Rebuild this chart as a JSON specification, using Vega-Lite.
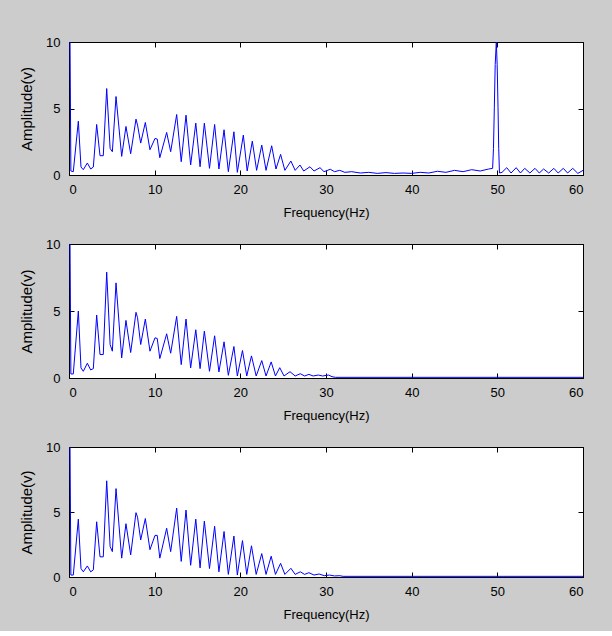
{
  "$schema": "https://vega.github.io/schema/vega-lite/v6.json",
  "background": "#cccccc",
  "padding": {"top": 35, "left": 19, "right": 29, "bottom": 9},
  "spacing": 17,
  "config": {
    "view": {"stroke": "#000000", "strokeWidth": 1, "fill": "#ffffff"},
    "axis": {
      "grid": false,
      "domain": false,
      "tickColor": "#000000",
      "tickSize": -5,
      "tickWidth": 1,
      "labelFont": "Liberation Sans",
      "labelFontSize": 13,
      "labelColor": "#000000",
      "titleFont": "Liberation Sans",
      "titleFontSize": 13,
      "titleFontWeight": "normal",
      "titleColor": "#000000"
    },
    "line": {"color": "#0000ff", "strokeWidth": 1, "clip": true}
  },
  "datasets": {
    "p1": [
      {"f":0.12,"a":10},{"f":0.22,"a":0.3},{"f":0.5,"a":0.25},{"f":1.09,"a":4.05},{"f":1.4,"a":0.6},{"f":1.67,"a":0.4},{"f":2.14,"a":0.9},{"f":2.53,"a":0.45},{"f":2.84,"a":0.6},{"f":3.23,"a":3.8},{"f":3.62,"a":1.45},{"f":4.0,"a":1.45},{"f":4.4,"a":6.5},{"f":4.8,"a":2.0},{"f":5.06,"a":1.75},{"f":5.49,"a":5.9},{"f":6.15,"a":1.4},{"f":6.65,"a":3.65},{"f":7.2,"a":1.6},{"f":7.82,"a":4.2},{"f":8.0,"a":3.75},{"f":8.37,"a":2.4},{"f":8.91,"a":3.95},{"f":9.45,"a":1.9},{"f":10.04,"a":2.75},{"f":10.3,"a":2.7},{"f":10.6,"a":1.3},{"f":11.4,"a":3.2},{"f":11.87,"a":1.75},{"f":12.57,"a":4.55},{"f":13.1,"a":1.0},{"f":13.66,"a":4.5},{"f":14.2,"a":0.75},{"f":14.8,"a":3.9},{"f":15.3,"a":0.62},{"f":15.8,"a":3.9},{"f":16.4,"a":0.5},{"f":17.0,"a":3.8},{"f":17.5,"a":0.45},{"f":18.1,"a":3.4},{"f":18.6,"a":0.25},{"f":19.25,"a":3.25},{"f":19.65,"a":0.2},{"f":20.35,"a":3.0},{"f":20.8,"a":0.3},{"f":21.4,"a":2.55},{"f":21.9,"a":0.35},{"f":22.5,"a":2.25},{"f":23.0,"a":0.35},{"f":23.66,"a":2.2},{"f":24.16,"a":0.45},{"f":24.7,"a":1.55},{"f":25.2,"a":0.35},{"f":25.9,"a":1.05},{"f":26.4,"a":0.35},{"f":26.96,"a":0.75},{"f":27.4,"a":0.3},{"f":28.13,"a":0.62},{"f":28.6,"a":0.3},{"f":29.3,"a":0.55},{"f":29.77,"a":0.25},{"f":30.5,"a":0.43},{"f":31.0,"a":0.25},{"f":31.6,"a":0.35},{"f":32.2,"a":0.2},{"f":33,"a":0.25},{"f":34,"a":0.15},{"f":35,"a":0.2},{"f":36,"a":0.12},{"f":37,"a":0.18},{"f":38,"a":0.12},{"f":39,"a":0.15},{"f":40,"a":0.12},{"f":41,"a":0.2},{"f":42,"a":0.15},{"f":43,"a":0.28},{"f":44,"a":0.2},{"f":45,"a":0.35},{"f":46,"a":0.25},{"f":47,"a":0.4},{"f":48,"a":0.3},{"f":49,"a":0.45},{"f":49.45,"a":0.5},{"f":49.55,"a":2.0},{"f":49.65,"a":5.1},{"f":49.75,"a":8.3},{"f":49.88,"a":10},{"f":49.98,"a":8.3},{"f":50.08,"a":5.1},{"f":50.16,"a":2.0},{"f":50.25,"a":0.15},{"f":50.55,"a":0.2},{"f":51.1,"a":0.55},{"f":51.6,"a":0.15},{"f":52.2,"a":0.55},{"f":52.7,"a":0.15},{"f":53.2,"a":0.5},{"f":53.8,"a":0.15},{"f":54.4,"a":0.5},{"f":54.9,"a":0.15},{"f":55.4,"a":0.45},{"f":56.0,"a":0.15},{"f":56.6,"a":0.5},{"f":57.1,"a":0.15},{"f":57.7,"a":0.5},{"f":58.2,"a":0.15},{"f":58.8,"a":0.5},{"f":59.4,"a":0.12},{"f":60,"a":0.35}
    ],
    "p2": [
      {"f":0.12,"a":10},{"f":0.22,"a":0.3},{"f":0.5,"a":0.3},{"f":1.09,"a":5.0},{"f":1.4,"a":0.75},{"f":1.67,"a":0.5},{"f":2.14,"a":1.1},{"f":2.53,"a":0.6},{"f":2.84,"a":0.7},{"f":3.23,"a":4.7},{"f":3.62,"a":1.75},{"f":4.0,"a":1.75},{"f":4.4,"a":7.9},{"f":4.8,"a":2.5},{"f":5.06,"a":2.0},{"f":5.49,"a":7.1},{"f":6.15,"a":1.5},{"f":6.65,"a":4.3},{"f":7.2,"a":1.9},{"f":7.82,"a":4.9},{"f":8.0,"a":4.5},{"f":8.37,"a":2.5},{"f":8.91,"a":4.4},{"f":9.45,"a":2.0},{"f":10.04,"a":3.0},{"f":10.3,"a":2.95},{"f":10.6,"a":1.45},{"f":11.4,"a":3.3},{"f":11.87,"a":1.85},{"f":12.57,"a":4.6},{"f":13.1,"a":1.0},{"f":13.66,"a":4.4},{"f":14.2,"a":0.75},{"f":14.8,"a":3.6},{"f":15.3,"a":0.7},{"f":15.8,"a":3.5},{"f":16.4,"a":0.5},{"f":17.0,"a":3.15},{"f":17.5,"a":0.45},{"f":18.1,"a":2.7},{"f":18.6,"a":0.2},{"f":19.25,"a":2.35},{"f":19.65,"a":0.15},{"f":20.25,"a":2.05},{"f":20.75,"a":0.15},{"f":21.3,"a":1.65},{"f":21.85,"a":0.15},{"f":22.5,"a":1.3},{"f":23.0,"a":0.15},{"f":23.6,"a":1.2},{"f":24.1,"a":0.15},{"f":24.6,"a":0.77},{"f":25.1,"a":0.15},{"f":25.8,"a":0.47},{"f":26.4,"a":0.15},{"f":27.0,"a":0.32},{"f":27.5,"a":0.15},{"f":28.0,"a":0.27},{"f":28.5,"a":0.15},{"f":29.1,"a":0.22},{"f":29.6,"a":0.15},{"f":30.3,"a":0.22},{"f":30.7,"a":0.1},{"f":31.1,"a":0.05},{"f":60,"a":0.05}
    ],
    "p3": [
      {"f":0.12,"a":10},{"f":0.22,"a":0.15},{"f":0.5,"a":0.15},{"f":1.09,"a":4.45},{"f":1.4,"a":0.65},{"f":1.67,"a":0.4},{"f":2.14,"a":0.85},{"f":2.53,"a":0.4},{"f":2.84,"a":0.55},{"f":3.23,"a":4.25},{"f":3.62,"a":1.55},{"f":4.0,"a":1.55},{"f":4.4,"a":7.4},{"f":4.8,"a":2.35},{"f":5.06,"a":1.95},{"f":5.49,"a":6.8},{"f":6.15,"a":1.45},{"f":6.65,"a":4.1},{"f":7.2,"a":1.7},{"f":7.82,"a":4.95},{"f":8.0,"a":4.6},{"f":8.37,"a":2.85},{"f":8.91,"a":4.5},{"f":9.45,"a":2.1},{"f":10.04,"a":3.2},{"f":10.3,"a":3.2},{"f":10.6,"a":1.45},{"f":11.4,"a":3.75},{"f":11.87,"a":1.95},{"f":12.57,"a":5.3},{"f":13.1,"a":1.2},{"f":13.66,"a":5.15},{"f":14.2,"a":0.9},{"f":14.8,"a":4.45},{"f":15.3,"a":0.7},{"f":15.8,"a":4.3},{"f":16.4,"a":0.65},{"f":17.0,"a":3.9},{"f":17.5,"a":0.4},{"f":18.1,"a":3.5},{"f":18.6,"a":0.2},{"f":19.25,"a":3.15},{"f":19.65,"a":0.15},{"f":20.25,"a":2.8},{"f":20.75,"a":0.2},{"f":21.3,"a":2.4},{"f":21.85,"a":0.2},{"f":22.5,"a":1.8},{"f":23.0,"a":0.2},{"f":23.6,"a":1.6},{"f":24.1,"a":0.2},{"f":24.7,"a":1.05},{"f":25.2,"a":0.2},{"f":25.9,"a":0.67},{"f":26.4,"a":0.2},{"f":27.0,"a":0.4},{"f":27.5,"a":0.2},{"f":28.0,"a":0.33},{"f":28.6,"a":0.15},{"f":29.2,"a":0.23},{"f":29.8,"a":0.1},{"f":30.4,"a":0.15},{"f":31.0,"a":0.08},{"f":31.6,"a":0.1},{"f":32.0,"a":0.05},{"f":60,"a":0.05}
    ]
  },
  "vconcat": [
    {
      "width": 514, "height": 133,
      "data": {"name": "p1"},
      "layer": [
        {"mark": {"type": "line"},
         "encoding": {
           "x": {"field": "f", "type": "quantitative", "scale": {"domain": [0, 60], "nice": false, "zero": false},
                 "axis": {"orient": "bottom", "values": [0,10,20,30,40,50,60], "labelPadding": 13, "title": "Frequency(Hz)", "titlePadding": 10}},
           "y": {"field": "a", "type": "quantitative", "scale": {"domain": [0, 10], "nice": false},
                 "axis": {"orient": "left", "values": [0,5,10], "labelPadding": 14, "title": "Amplitude(v)", "titleFontSize": 15, "titlePadding": 11}}
         }},
        {"mark": {"type": "line", "opacity": 0},
         "encoding": {
           "x": {"field": "f", "type": "quantitative", "axis": {"orient": "top", "values": [0,10,20,30,40,50,60], "labels": false, "title": null}},
           "y": {"field": "a", "type": "quantitative", "axis": {"orient": "right", "values": [0,5,10], "labels": false, "title": null}}
         }}
      ],
      "resolve": {"axis": {"x": "independent", "y": "independent"}}
    },
    {
      "width": 514, "height": 134,
      "data": {"name": "p2"},
      "layer": [
        {"mark": {"type": "line"},
         "encoding": {
           "x": {"field": "f", "type": "quantitative", "scale": {"domain": [0, 60], "nice": false, "zero": false},
                 "axis": {"orient": "bottom", "values": [0,10,20,30,40,50,60], "labelPadding": 13, "title": "Frequency(Hz)", "titlePadding": 10}},
           "y": {"field": "a", "type": "quantitative", "scale": {"domain": [0, 10], "nice": false},
                 "axis": {"orient": "left", "values": [0,5,10], "labelPadding": 14, "title": "Amplitude(v)", "titleFontSize": 15, "titlePadding": 11}}
         }},
        {"mark": {"type": "line", "opacity": 0},
         "encoding": {
           "x": {"field": "f", "type": "quantitative", "axis": {"orient": "top", "values": [0,10,20,30,40,50,60], "labels": false, "title": null}},
           "y": {"field": "a", "type": "quantitative", "axis": {"orient": "right", "values": [0,5,10], "labels": false, "title": null}}
         }}
      ],
      "resolve": {"axis": {"x": "independent", "y": "independent"}}
    },
    {
      "width": 514, "height": 130,
      "data": {"name": "p3"},
      "layer": [
        {"mark": {"type": "line"},
         "encoding": {
           "x": {"field": "f", "type": "quantitative", "scale": {"domain": [0, 60], "nice": false, "zero": false},
                 "axis": {"orient": "bottom", "values": [0,10,20,30,40,50,60], "labelPadding": 13, "title": "Frequency(Hz)", "titlePadding": 10}},
           "y": {"field": "a", "type": "quantitative", "scale": {"domain": [0, 10], "nice": false},
                 "axis": {"orient": "left", "values": [0,5,10], "labelPadding": 14, "title": "Amplitude(v)", "titleFontSize": 15, "titlePadding": 11}}
         }},
        {"mark": {"type": "line", "opacity": 0},
         "encoding": {
           "x": {"field": "f", "type": "quantitative", "axis": {"orient": "top", "values": [0,10,20,30,40,50,60], "labels": false, "title": null}},
           "y": {"field": "a", "type": "quantitative", "axis": {"orient": "right", "values": [0,5,10], "labels": false, "title": null}}
         }}
      ],
      "resolve": {"axis": {"x": "independent", "y": "independent"}}
    }
  ]
}
